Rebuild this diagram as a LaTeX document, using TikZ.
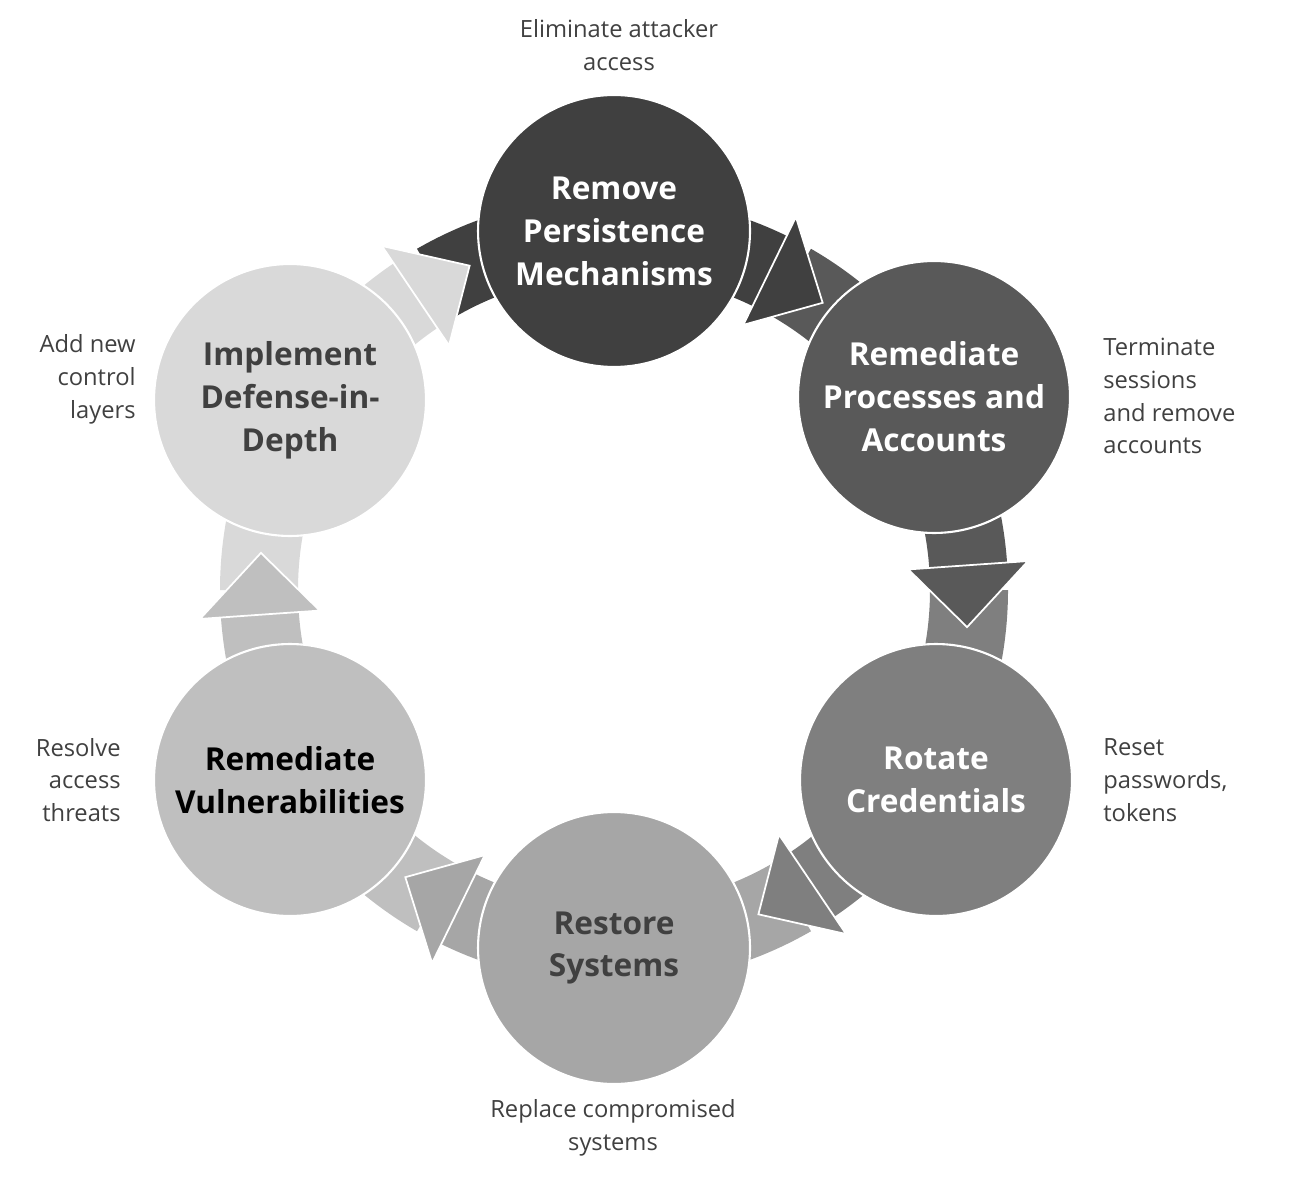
\documentclass[tikz,border=0pt]{standalone}
\usepackage{fontspec}
\setmainfont{Open Sans}
\usetikzlibrary{calc}
\definecolor{c1}{HTML}{404040}
\definecolor{c2}{HTML}{595959}
\definecolor{c3}{HTML}{7F7F7F}
\definecolor{c4}{HTML}{A6A6A6}
\definecolor{c5}{HTML}{BFBFBF}
\definecolor{c6}{HTML}{D9D9D9}
\definecolor{txt}{HTML}{404040}
\begin{document}
\begin{tikzpicture}[x=0.02cm,y=0.02cm,
  phase/.style={circle,draw=white,line width=1.2pt,minimum size=5.44cm,inner sep=0pt,align=center,
     font=\fontsize{18}{24.4}\selectfont\bfseries},
  note/.style={text=txt,font=\fontsize{13.5}{18.7}\selectfont,inner sep=0pt}]
\useasboundingbox (0,0) rectangle (1300,1181);
\coordinate (O) at (614,591);
\foreach \a/\col in {90/c1,30/c2,-30/c3,-90/c4,-150/c5,150/c6}{
  \fill[\col] ($(O)+(\a+30:394)$) arc[start angle=\a+30,end angle=\a-26,radius=394]
     -- ($(O)+(\a-26:316)$) arc[start angle=\a-26,end angle=\a+30,radius=316] -- cycle;
}
\foreach \a/\col in {90/c1,30/c2,-30/c3,-90/c4,-150/c5,150/c6}{
  \filldraw[fill=\col,draw=white,line width=1pt] ($(O)+(\a-26:295)$) -- ($(O)+(\a-36:355)$) -- ($(O)+(\a-26:415)$) -- cycle;
}
\node[phase,fill=c1,text=white] (s1) at (614,950) {Remove\\Persistence\\Mechanisms};
\node[phase,fill=c2,text=white] (s2) at (934,784) {Remediate\\Processes and\\Accounts};
\node[phase,fill=c3,text=white] (s3) at (936,401) {Rotate\\Credentials};
\node[phase,fill=c4,text=txt] (s4) at (614,233) {Restore\\Systems};
\node[phase,fill=c5,text=black] (s5) at (290,401) {Remediate\\Vulnerabilities};
\node[phase,fill=c6,text=txt] (s6) at (290,781) {Implement\\Defense-in-\\Depth};
\node[note,align=center] (n1) at (619,1136) {Eliminate attacker\\access};
\node[note,align=left,anchor=west] (n2) at (1103,785) {Terminate\\sessions\\and remove\\accounts};
\node[note,align=left,anchor=west] (n3) at (1103,401) {Reset\\passwords,\\tokens};
\node[note,align=center] (n4) at (613,53) {Replace compromised\\systems};
\node[note,align=right,anchor=east] (n5) at (121,401) {Resolve\\access\\threats};
\node[note,align=right,anchor=east] (n6) at (136,802) {Add new\\control\\layers};
\end{tikzpicture}
\end{document}
